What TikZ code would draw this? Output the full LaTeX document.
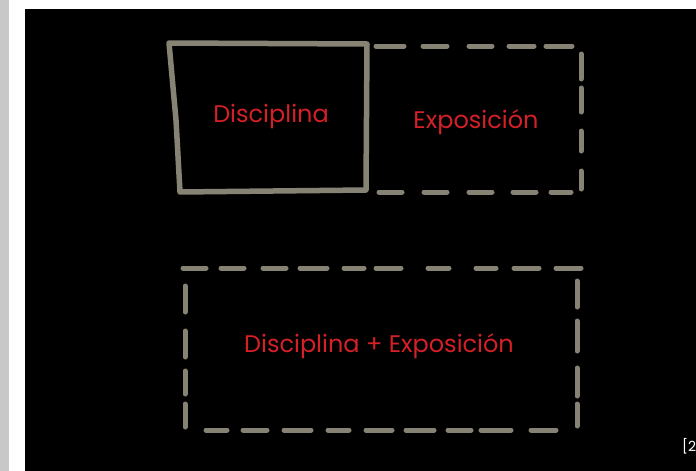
\documentclass[tikz,border=0pt]{standalone}
\usepackage{fontspec}
\setmainfont{Poppins}
\definecolor{chalk}{RGB}{135,131,116}
\definecolor{lbl}{RGB}{212,32,38}
\definecolor{strip}{RGB}{200,200,200}
\begin{document}
\begin{tikzpicture}[x=1pt,y=-1pt,
  chalkline/.style={draw=chalk,line width=5.5pt,line cap=round,line join=round},
  dsh/.style={draw=chalk,line width=5pt,line cap=round},
  lab/.style={text=lbl,font=\fontsize{24}{27}\selectfont,inner sep=0pt,anchor=base}]
\useasboundingbox (0,0) rectangle (696,471);
\fill[white] (0,0) rectangle (696,471);
\fill[strip] (0,0) rectangle (9,471);
\fill[black] (25,9) rectangle (696,471);
% solid box
\draw[chalkline] (169,43) -- (367,44) -- (366,190) -- (180,192) -- (176,120) -- cycle;
% top dashed extension
\foreach \a/\b in {376/404,423/447,469/492,509/534,546/572}
  \draw[dsh] (\a,46) -- (\b,46);
\foreach \a/\b in {54/79,88/112,131/151,171/189}
  \draw[dsh] (581,\a) -- (581,\b);
\foreach \a/\b in {379/402,424/447,469/492,513/536,551/571}
  \draw[dsh] (\a,192) -- (\b,192);
% bottom dashed box
\foreach \a/\b in {183/206,221/244,263/286,300/327,344/364,376/401,428/449,476/496,514/539,556/581}
  \draw[dsh] (\a,268) -- (\b,268);
\foreach \a/\b in {286/312,331/357,371/394,404/427}
  \draw[dsh] (185,\a) -- (185,\b);
\foreach \a/\b in {281/307,321/351,368/396,404/426}
  \draw[dsh] (577,\a) -- (577,\b);
\foreach \a/\b in {206/227,243/267,284/311,328/349,366/392,406/434,448/471,481/511,531/556}
  \draw[dsh] (\a,430) -- (\b,430);
% labels
\node[lab] (d) at (271,122) {Disciplina};
\node[lab] (e) at (476,128) {Exposición};
\node[lab] (de) at (379,352) {Disciplina + Exposición};
\begin{scope}
\clip (0,0) rectangle (696,471);
\node[text=white,font=\fontsize{14}{16}\selectfont,anchor=base west,inner sep=0pt] (n) at (682,451) {[2};
\end{scope}
\end{tikzpicture}
\end{document}
